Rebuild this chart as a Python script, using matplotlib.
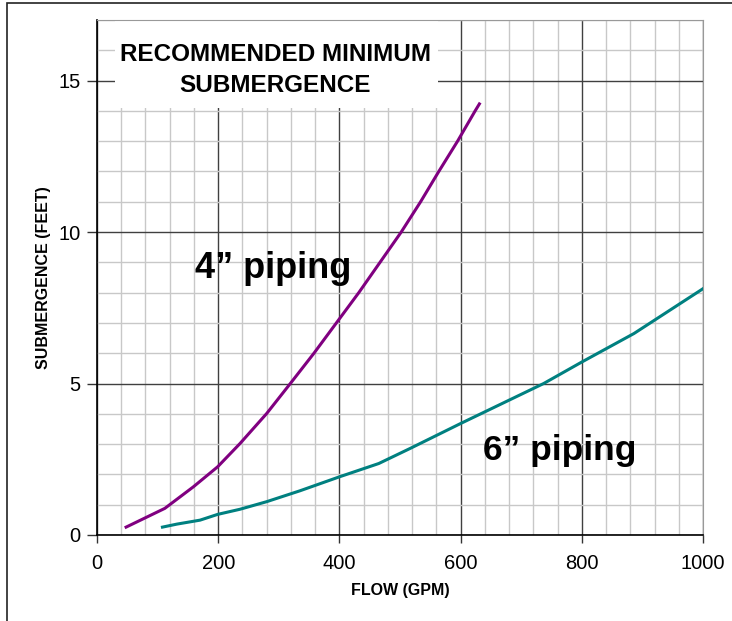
import matplotlib
matplotlib.use("Agg")
import matplotlib.pyplot as plt
from matplotlib.patches import Rectangle
from matplotlib.ticker import MultipleLocator

plt.rcParams['font.family'] = ['Liberation Sans', 'DejaVu Sans']

# values
flow_4in = [48, 112, 159, 199, 236, 280, 319, 358, 395, 432, 467, 502, 534, 564, 595, 624, 631]
sub_4in = [0.26, 0.88, 1.59, 2.25, 3.02, 4.01, 5.0, 6.0, 7.0, 8.0, 9.0, 10.0, 11.0, 12.0, 13.0, 14.0, 14.23]

flow_6in = [108, 132, 170, 199, 236, 280, 335, 400, 465, 517, 600, 737, 800, 886, 1000]
sub_6in = [0.26, 0.36, 0.49, 0.68, 0.85, 1.10, 1.46, 1.92, 2.36, 2.86, 3.68, 5.0, 5.71, 6.65, 8.13]

x_ticks = [0, 200, 400, 600, 800, 1000]
y_ticks = [0, 5, 10, 15]
title_lines = ["RECOMMENDED MINIMUM", "SUBMERGENCE"]

fig = plt.figure(figsize=(7.32, 6.21), dpi=100)
ax = fig.add_axes([97/732, 1 - 535/621, 606/732, 515/621])

ax.set_xlim(0, 1000)
ax.set_ylim(0, 17)
ax.set_xticks(x_ticks)
ax.set_yticks(y_ticks)
ax.xaxis.set_minor_locator(MultipleLocator(40))
ax.yaxis.set_minor_locator(MultipleLocator(1))

ax.grid(which='minor', color='#c8c8c8', lw=1.0, zorder=0)
ax.grid(which='major', color='#404040', lw=1.0, zorder=0.5)
ax.set_axisbelow(True)

ax.tick_params(which='minor', length=0)
ax.tick_params(which='major', length=7, width=1, color='#333333', labelsize=14.5, pad=5)
ax.tick_params(axis='x', which='major', length=6, pad=8)

for s in ['top', 'right']:
    ax.spines[s].set_color('#999999')
for s in ['left', 'bottom']:
    ax.spines[s].set_color('black')
    ax.spines[s].set_linewidth(1.2)

# white box behind the title
ax.add_patch(Rectangle((30, 14.1), 533, 3.0, facecolor='white', edgecolor='none', zorder=1))
ax.text(294, 15.87, title_lines[0], ha='center', va='center', fontsize=17.5, fontweight='bold', zorder=2)
ax.text(294, 14.84, title_lines[1], ha='center', va='center', fontsize=17.5, fontweight='bold', zorder=2)

ax.plot(flow_4in, sub_4in, color='#800080', lw=2.2, zorder=3)
ax.plot(flow_6in, sub_6in, color='#008080', lw=2.2, zorder=3)

ax.text(162, 8.5, '4\u201d piping', fontsize=26, fontweight='bold', zorder=4)
ax.text(637, 2.47, '6\u201d piping', fontsize=25.5, fontweight='bold', zorder=4)

ax.set_xlabel('FLOW (GPM)', fontsize=11.5, fontweight='bold', labelpad=7)
ax.set_ylabel('SUBMERGENCE (FEET)', fontsize=11.5, fontweight='bold', labelpad=5)

# outer frame, cut off on the right and bottom like the reference
fig.add_artist(Rectangle((7/732, -0.2), 1.2, 1.2 - 3/621, transform=fig.transFigure,
                         facecolor='none', edgecolor='#222222', lw=1.2, clip_on=False))

fig.savefig('out.png', dpi=100)
